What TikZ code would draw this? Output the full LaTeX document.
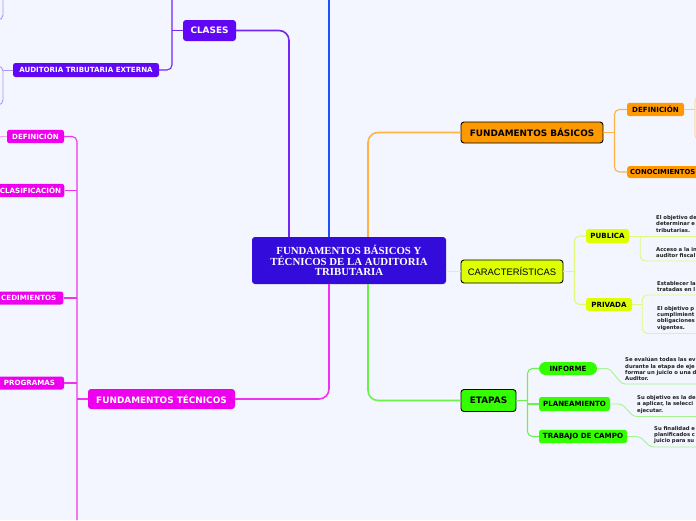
\documentclass[tikz,border=0pt]{standalone}
\usepackage{fontspec}
\setmainfont{DejaVu Sans}
\newfontfamily\serifbold{Liberation Serif}
\newfontfamily\plainsans{Liberation Sans}
\usetikzlibrary{positioning}
\definecolor{canvas}{HTML}{F3F6FE}
\definecolor{central}{HTML}{330CDB}
\definecolor{clsviolet}{HTML}{6008F5}
\definecolor{clsline}{HTML}{7426F2}
\definecolor{clslight}{HTML}{AE92F7}
\definecolor{royal}{HTML}{1C50FF}
\definecolor{amber}{HTML}{FF9900}
\definecolor{amberln}{HTML}{FFB347}
\definecolor{amberlt}{HTML}{FFE6C4}
\definecolor{limefill}{HTML}{DDFF00}
\definecolor{limeln}{HTML}{E3F77A}
\definecolor{grass}{HTML}{33FF00}
\definecolor{grassln}{HTML}{6CF24A}
\definecolor{grasslt}{HTML}{A6F58F}
\definecolor{fuchsia}{HTML}{EE00EE}
\definecolor{fuchsialn}{HTML}{EE33EE}
\definecolor{fuchsialt}{HTML}{F8A0F8}
\definecolor{ink}{HTML}{1E1E1E}

\begin{document}
\begin{tikzpicture}[x=1pt, y=-1pt,
    hub/.style={rectangle, rounded corners=3pt, fill=central, text=white,
                minimum width=194pt, minimum height=47pt, align=center,
                font=\serifbold\bfseries\fontsize{10.8}{10.6}\selectfont},
    topic/.style={rectangle, rounded corners=3pt, minimum height=21pt,
                  font=\bfseries\fontsize{8.9}{10}\selectfont},
    rimmed/.style={topic, draw=black, line width=0.9pt, text=black},
    leaf/.style={rectangle, rounded corners=2.5pt, minimum height=13pt,
                 font=\bfseries\fontsize{7.1}{8}\selectfont},
    note/.style={anchor=south west, inner xsep=0pt, inner ysep=3pt, text width=100pt,
                 align=left, text=ink, font=\bfseries\fontsize{5.3}{6.3}\selectfont},
    link/.style={line width=1.6pt, rounded corners=10pt},
    twig/.style={line width=1.1pt, rounded corners=5pt}
  ]
    \useasboundingbox (0,0) rectangle (696,520);
    \fill[canvas] (0,0) rectangle (696,520);
    \clip (0,0) rectangle (696,520);

    \node[hub] (hub) at (349,260.5) {FUNDAMENTOS BÁSICOS Y\\TÉCNICOS DE LA AUDITORIA\\TRIBUTARIA};

    \node[topic, fill=clsviolet, text=white, minimum width=53pt] (clases) at (209.5,30.5) {CLASES};
    \node[leaf, fill=clsviolet, text=white, minimum width=146pt, minimum height=14pt] (externa) at (86,70) {AUDITORIA TRIBUTARIA EXTERNA};

    \node[topic, fill=fuchsia, text=white, minimum width=147pt, minimum height=20pt] (tecnicos) at (161.5,399) {FUNDAMENTOS TÉCNICOS};
    \node[leaf, fill=fuchsia, text=white, minimum width=57pt] (tdef) at (35.5,136.5) {DEFINICIÓN};
    \node[leaf, fill=fuchsia, text=white, minimum width=67pt] (tclas) at (30.5,190.5) {CLASIFICACIÓN};
    \node[leaf, fill=fuchsia, text=white, anchor=east, text width=70pt, align=right, inner xsep=7pt] (tproc) at (63.5,298) {CEDIMIENTOS};
    \node[leaf, fill=fuchsia, text=white, minimum width=69pt] (tprog) at (29.5,383) {PROGRAMAS};

    \node[rimmed, fill=amber, minimum width=142pt] (basicos) at (532,132.5) {FUNDAMENTOS BÁSICOS};
    \node[leaf, fill=amber, text=black, minimum width=57pt] (bdef) at (655.5,109.5) {DEFINICIÓN};
    \node[leaf, fill=amber, text=black, anchor=west, text width=80pt, align=left, inner xsep=3pt, minimum height=12pt, font=\bfseries\fontsize{6.85}{8}\selectfont] (bcon) at (627,172) {CONOCIMIENTOS};
    \node[rectangle, rounded corners=4pt, fill=amberlt, draw=amberln!60, minimum width=30pt, minimum height=42pt, anchor=west] (bnote) at (694.5,118) {};

    \node[rimmed, fill=limefill, minimum width=102pt, minimum height=23pt, font=\plainsans\fontsize{9.4}{10}\selectfont] (rasgos) at (512,271.5) {CARACTERÍSTICAS};
    \node[leaf, fill=limefill, text=black, minimum width=43pt, minimum height=14pt] (publica) at (607.5,236) {PUBLICA};
    \node[leaf, fill=limefill, text=black, minimum width=46pt] (privada) at (609,304.5) {PRIVADA};

    \node[rimmed, fill=grass, minimum width=55pt, minimum height=22pt] (etapas) at (488.5,400.5) {ETAPAS};
    \node[leaf, fill=grass, text=black, rounded corners=6.5pt, minimum width=58pt] (informe) at (568,368.5) {INFORME};
    \node[leaf, fill=grass, text=black, minimum width=71pt, minimum height=14pt] (plan) at (574.5,404) {PLANEAMIENTO};
    \node[leaf, fill=grass, text=black, minimum width=88pt] (campo) at (583,436.5) {TRABAJO DE CAMPO};

    \node[note] (pub1) at (656,235.5) {El objetivo de\\determinar e\\tributarias.};
    \node[note] (pub2) at (656,261) {Acceso a la in\\auditor fiscal};
    \node[note] (priv1) at (657,295) {Establecer la\\tratadas en l};
    \node[note] (priv2) at (657,333.5) {El objetivo p\\cumplimient\\obligaciones\\vigentes.};
    \node[note] (inf1) at (625,384) {Se evalúan todas las ev\\durante la etapa de eje\\formar un juicio o una d\\Auditor.};
    \node[note] (plan1) at (637,416.5) {Su objetivo es la de\\a aplicar, la selecci\\ejecutar.};
    \node[note] (campo1) at (654,447) {Su finalidad e\\planificados c\\juicio para su};

    \coordinate (skyline) at (329,0);
    \coordinate (clstop) at (172,0);
    \coordinate (tecbot) at (77,520);
    \coordinate (oldtop) at (3,0);
    \coordinate (oldend) at (-6,20);
    \coordinate (extup) at (-6,66);
    \coordinate (extmid) at (3,85);
    \coordinate (extdn) at (-6,105);
    \coordinate (tdefout) at (-2,136.5);
    \coordinate (basspine) at ([xshift=11pt]basicos.east);
    \coordinate (rasspine) at ([xshift=11pt]rasgos.east);
    \coordinate (pubspine) at ([xshift=11pt]publica.east);
    \coordinate (privspine) at ([xshift=10pt]privada.east);
    \coordinate (etaspine) at ([xshift=11pt]etapas.east);

    \draw[link, draw=clsline] ([xshift=-60pt]hub.north) |- (clases.east);
    \draw[link, draw=royal, line width=2pt] ([xshift=-20pt]hub.north) -- (skyline);
    \draw[link, draw=amberln] ([xshift=19pt]hub.north) |- (basicos.west);
    \draw[link, draw=limeln] (hub.east |- rasgos.west) -- (rasgos.west);
    \draw[link, draw=grassln] ([xshift=19pt]hub.south) |- (etapas.west);
    \draw[link, draw=fuchsialn] ([xshift=-20pt]hub.south) |- (tecnicos.east);

    \draw[twig, draw=clsline] (clstop) |- (externa.east);
    \draw[twig, draw=clsline] (clases.west) -- (clases.west -| clstop);
    \draw[twig, draw=clslight, line width=0.9pt] (oldtop) |- (oldend);
    \draw[twig, draw=clslight, line width=0.9pt] (externa.west) -- (externa.west -| extmid);
    \draw[twig, draw=clslight, line width=0.9pt] (extup) -| (extmid) |- (extdn);

    \draw[twig, draw=fuchsialn] (tdef.east) -| (tecbot);
    \foreach \kid in {tclas, tproc, tprog}
      \draw[twig, draw=fuchsialn] (\kid.east) -- (\kid.east -| tecbot);
    \draw[twig, draw=fuchsialn] (tecnicos.west) -- (tecnicos.west -| tecbot);
    \draw[twig, draw=fuchsialt, line width=0.9pt] (tdef.west) -- (tdefout);

    \draw[twig, draw=amberln] (basicos.east) -- (basspine);
    \draw[twig, draw=amberln] (bdef.west) -| (basspine) |- (bcon.west);
    \draw[twig, draw=amberln!70, line width=0.9pt] (bdef.east) -- (bnote.west |- bdef.east);

    \draw[twig, draw=limeln] (rasgos.east) -- (rasspine);
    \draw[twig, draw=limeln] (publica.west) -| (rasspine) |- (privada.west);
    \draw[twig, draw=limeln, line width=0.9pt] (publica.east) -- (publica.east -| pub1.south east);
    \draw[twig, draw=limeln, line width=0.9pt] (pubspine) |- (pub2.south east);
    \draw[twig, draw=limeln, line width=0.9pt] (privada.east) -- (privspine);
    \draw[twig, draw=limeln, line width=0.9pt] (priv1.south east) -| (privspine) |- (priv2.south east);

    \draw[twig, draw=grassln] (etapas.east) -- (etaspine);
    \draw[twig, draw=grassln] (informe.west) -| (etaspine) |- (campo.west);
    \draw[twig, draw=grassln] (plan.west) -- (plan.west -| etaspine);
    \draw[draw=grasslt, line width=0.9pt] (informe.east) -- ++(9,0)
      .. controls +(7,0) and +(-7,0) .. (inf1.south west) -- (inf1.south east);
    \draw[draw=grasslt, line width=0.9pt] (plan.east) -- ++(8,0)
      .. controls +(8,0) and +(-8,0) .. (plan1.south west) -- (plan1.south east);
    \draw[draw=grasslt, line width=0.9pt] (campo.east) -- ++(9,0)
      .. controls +(8,0) and +(-8,0) .. (campo1.south west) -- (campo1.south east);
\end{tikzpicture}
\end{document}
